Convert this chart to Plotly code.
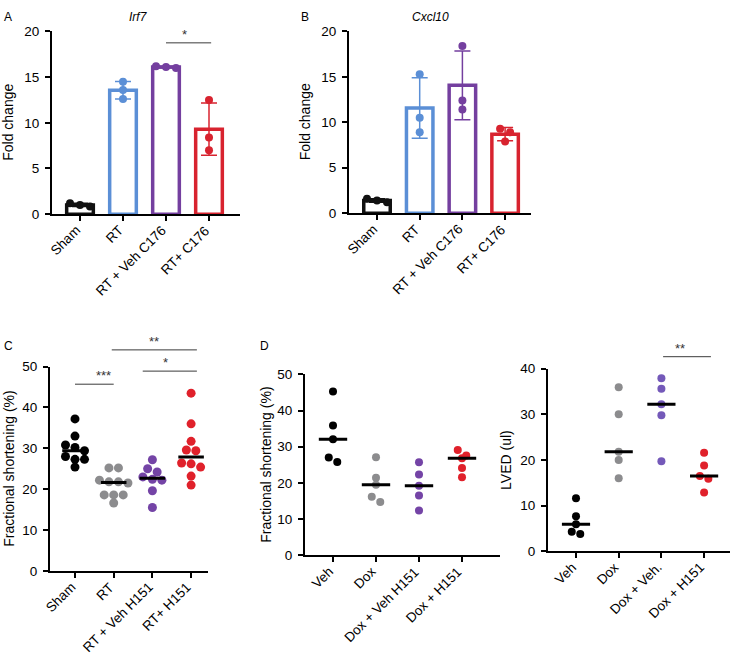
import numpy as np
import plotly.graph_objects as go

W, H = 734, 659
FONT = "Arial, Liberation Sans, sans-serif"

# ---- data ----
gene_cats = ["Sham", "RT", "RT + Veh C176", "RT+ C176"]
irf7 = [[0.85, 1.2, 1.0], [14.5, 13.6, 12.6], [16.0, 16.1, 16.2], [12.5, 8.4, 7.0]]
cxcl10 = [[1.2, 1.6, 1.4], [15.3, 10.5, 8.9], [18.4, 12.4, 11.4], [9.3, 8.9, 7.9]]

c_cats = ["Sham", "RT", "RT + Veh H151", "RT+ H151"]
c_fs = [
    [37.2, 33.0, 30.8, 30.2, 29.4, 28.0, 27.3, 27.3, 25.4],
    [25.2, 25.2, 22.2, 21.8, 21.8, 21.5, 18.6, 18.6, 18.6, 16.6],
    [27.2, 25.0, 24.2, 23.0, 22.4, 22.2, 19.6, 15.5],
    [43.5, 36.0, 31.7, 29.6, 29.4, 26.4, 26.2, 25.4, 23.2, 21.0],
]

d_fs_cats = ["Veh", "Dox", "Dox + Veh H151", "Dox + H151"]
d_fs = [
    [45.3, 35.9, 32.1, 27.0, 25.8],
    [27.1, 21.4, 19.5, 16.2, 14.7],
    [25.7, 22.3, 19.2, 16.5, 12.4],
    [29.1, 27.6, 26.8, 24.1, 21.6],
]

d_lved_cats = ["Veh", "Dox", "Dox + Veh.", "Dox + H151"]
d_lved = [
    [11.6, 7.7, 5.9, 4.3, 3.8],
    [35.9, 30.0, 21.8, 20.0, 16.0],
    [37.9, 35.6, 32.2, 29.8, 19.7],
    [21.6, 18.8, 16.5, 15.9, 12.9],
]

# significance bars: (from, to, level, label)
sig_a = [(2.0, 3.05, 18.75, "*")]
sig_c = [(0.0, 1.0, 45.7, "***"), (1.75, 3.15, 48.9, "*"), (0.95, 3.15, 54.1, "**")]
sig_d = [(2.04, 3.16, 42.6, "**")]

bar_colors = ["#111111", "#5b8fd6", "#743f9f", "#d8232f"]
dot_colors = ["#000000", "#8c8c8e", "#7444a6", "#e0212b"]
lved_colors = ["#000000", "#8c8c8e", "#7459b9", "#e0212b"]

# ---- panel geometry in pixels: axis left/right, y of zero, y of top, first category, spacing ----
# tx = x centre of the y-axis title
panels = {
    "A": dict(l=52, r=240, y0=212, y1=25, c0=80, dc=43.0, ymax=20, dtick=5, tx=8),
    "B": dict(l=349, r=531, y0=211, y1=25, c0=377, dc=42.7, ymax=20, dtick=5, tx=305),
    "C": dict(l=50, r=208, y0=577, y1=368, c0=75, dc=38.7, ymax=50, dtick=10, tx=9),
    "D1": dict(l=305, r=500, y0=561, y1=376, c0=333, dc=43.0, ymax=50, dtick=10, tx=266),
    "D2": dict(l=548, r=730, y0=557, y1=370, c0=576, dc=42.7, ymax=40, dtick=10, tx=506),
}


def swarm(vals, p, d_px=9.0, thresh_px=7.0):
    """simple row-based beeswarm offsets (in category units)"""
    ppy = (p["y0"] - p["y1"]) / p["ymax"]
    order = sorted(range(len(vals)), key=lambda i: -vals[i])
    rows, cur = [], []
    for i in order:
        if cur and (vals[cur[0]] - vals[i]) * ppy > thresh_px:
            rows.append(cur)
            cur = []
        cur.append(i)
    rows.append(cur)
    off = [0.0] * len(vals)
    for row in rows:
        k = len(row)
        for j, i in enumerate(row):
            off[i] = (j - (k - 1) / 2) * d_px / p["dc"]
    return off


fig = go.Figure()
axis_ids = {"A": "", "B": "2", "C": "3", "D1": "4", "D2": "5"}


def setup_axes(key, cats, ytitle):
    p = panels[key]
    n = axis_ids[key]
    xr = [(p["l"] - p["c0"]) / p["dc"], (p["r"] - p["c0"]) / p["dc"]]
    common = dict(showline=True, linecolor="black", linewidth=2, ticks="outside",
                  ticklen=5, tickwidth=2, tickcolor="black", showgrid=False, zeroline=False,
                  tickfont=dict(family=FONT, size=13.5, color="black"), fixedrange=True)
    fig.layout["xaxis" + n] = dict(
        domain=[p["l"] / W, p["r"] / W], range=xr, anchor="y" + n,
        tickmode="array", tickvals=list(range(len(cats))), showticklabels=False, **common)
    fig.layout["yaxis" + n] = dict(
        domain=[1 - p["y0"] / H, 1 - p["y1"] / H], range=[0, p["ymax"]], anchor="x" + n,
        dtick=p["dtick"], tick0=0, ticklabelstandoff=3, **common)
    # category labels, rotated, top-right corner just below each tick
    for i, c in enumerate(cats):
        fig.add_annotation(xref="x" + n, yref=f"y{n} domain", x=i, y=0, text=c,
                           textangle=-45, showarrow=False, xanchor="right", yanchor="top",
                           xshift=6, yshift=-6,
                           font=dict(family=FONT, size=13.5, color="black"))
    # y-axis title as rotated annotation
    fig.add_annotation(xref="paper", yref="paper", x=p["tx"] / W,
                       y=1 - (p["y0"] + p["y1"]) / 2 / H, text=ytitle, textangle=-90,
                       showarrow=False, xanchor="center", yanchor="middle",
                       font=dict(family=FONT, size=14, color="black"))
    return xr


def add_sig(key, sigs, xr):
    p = panels[key]
    n = axis_ids[key]
    for a, b, lvl, lab in sigs:
        fa = (a - xr[0]) / (xr[1] - xr[0])
        fb = (b - xr[0]) / (xr[1] - xr[0])
        fy = lvl / p["ymax"]
        fig.add_shape(type="line", xref=f"x{n} domain", yref=f"y{n} domain",
                      x0=fa, x1=fb, y0=fy, y1=fy, line=dict(color="#3a3a3a", width=1))
        fig.add_annotation(xref=f"x{n} domain", yref=f"y{n} domain", x=(fa + fb) / 2, y=fy,
                           text=lab, showarrow=False, yanchor="bottom", yshift=-1,
                           font=dict(family=FONT, size=13, color="#333333"))


def bar_panel(key, data):
    n = axis_ids[key]
    p = panels[key]
    for i, vals in enumerate(data):
        col = bar_colors[i]
        m = float(np.mean(vals))
        sd = float(np.std(vals, ddof=1))
        fig.add_trace(go.Bar(
            x=[i], y=[m], width=0.62, xaxis="x" + n, yaxis="y" + n,
            marker=dict(color="white", line=dict(color=col, width=3.5)),
            error_y=dict(type="data", array=[sd], color=col, thickness=1.5, width=8),
            showlegend=False, hoverinfo="skip"))
        off = swarm(vals, p, d_px=10.0)
        fig.add_trace(go.Scatter(
            x=[i + o for o in off], y=vals, mode="markers", xaxis="x" + n, yaxis="y" + n,
            marker=dict(color=col, size=8), showlegend=False, hoverinfo="skip"))


def dot_panel(key, data, colors, msize=9):
    n = axis_ids[key]
    p = panels[key]
    for i, vals in enumerate(data):
        off = swarm(vals, p, d_px=msize + 0.5)
        fig.add_trace(go.Scatter(
            x=[i + o for o in off], y=vals, mode="markers", xaxis="x" + n, yaxis="y" + n,
            marker=dict(color=colors[i], size=msize), showlegend=False, hoverinfo="skip"))
        med = float(np.median(vals))
        fig.add_trace(go.Scatter(
            x=[i - 0.33, i + 0.33], y=[med, med], mode="lines", xaxis="x" + n, yaxis="y" + n,
            line=dict(color="black", width=3), showlegend=False, hoverinfo="skip"))


xa = setup_axes("A", gene_cats, "Fold change")
xb = setup_axes("B", gene_cats, "Fold change")
xc = setup_axes("C", c_cats, "Fractional shortening (%)")
xd1 = setup_axes("D1", d_fs_cats, "Fractional shortening (%)")
xd2 = setup_axes("D2", d_lved_cats, "LVED (ul)")

bar_panel("A", irf7)
bar_panel("B", cxcl10)
dot_panel("C", c_fs, dot_colors, msize=9)
dot_panel("D1", d_fs, dot_colors, msize=8)
dot_panel("D2", d_lved, lved_colors, msize=8)

add_sig("A", sig_a, xa)
add_sig("C", sig_c, xc)
add_sig("D2", sig_d, xd2)

# panel letters and gene titles
labels = [("A", 2, 1), ("B", 299, 1), ("C", 2, 338), ("D", 258, 338)]
for t, x, y in labels:
    fig.add_annotation(xref="paper", yref="paper", x=x / W, y=1 - y / H, text=t,
                       showarrow=False, xanchor="left", yanchor="top",
                       font=dict(family=FONT, size=12, color="black"))
for t, x in [("<i>Irf7</i>", 138), ("<i>Cxcl10</i>", 430)]:
    fig.add_annotation(xref="paper", yref="paper", x=x / W, y=1 - 1 / H, text=t,
                       showarrow=False, xanchor="center", yanchor="top",
                       font=dict(family=FONT, size=12, color="black"))

fig.update_layout(
    width=W, height=H, autosize=False,
    margin=dict(l=0, r=0, t=0, b=0),
    paper_bgcolor="white", plot_bgcolor="white",
    barmode="overlay", showlegend=False,
    font=dict(family=FONT, color="black"),
)

# drop the default body margin so the 734x659 figure fills the window exactly
fig.write_html("out.html", config={"displayModeBar": False},
               post_script="document.body.style.margin='0';")
